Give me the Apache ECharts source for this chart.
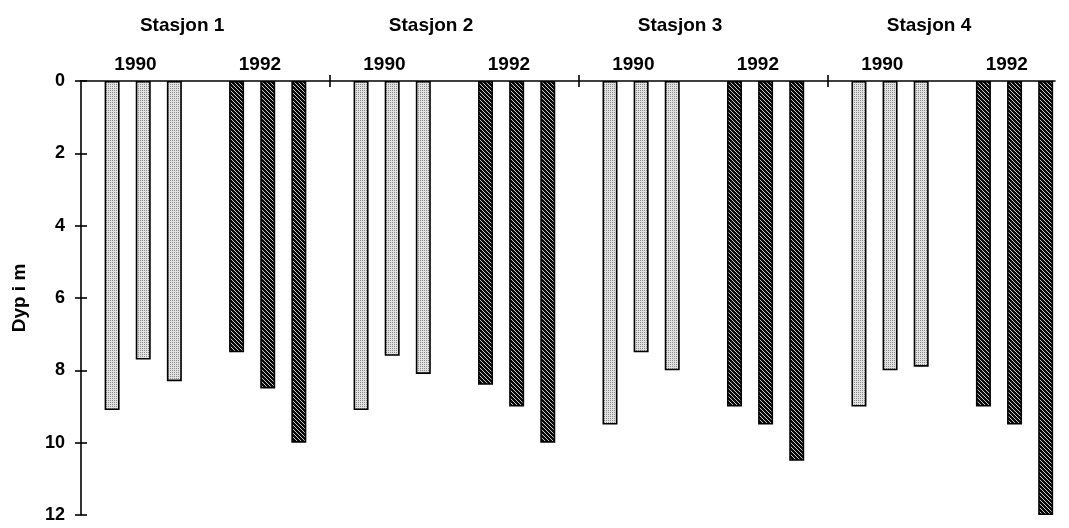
<!DOCTYPE html>
<html>
<head>
<meta charset="utf-8">
<script src="https://cdn.jsdelivr.net/npm/echarts@6/dist/echarts.min.js"></script>
<style>
html,body{margin:0;padding:0;background:#fff;}
#chart{width:1069px;height:528px;}
</style>
</head>
<body>
<div id="chart"></div>
<script>
// ---- data ----
var stations = ['Stasjon 1', 'Stasjon 2', 'Stasjon 3', 'Stasjon 4'];
var years = ['1990', '1992'];
var depth1990 = [[9.1, 7.7, 8.3], [9.1, 7.6, 8.1], [9.5, 7.5, 8.0], [9.0, 8.0, 7.9]];
var depth1992 = [[7.5, 8.5, 10.0], [8.4, 9.0, 10.0], [9.0, 9.5, 10.5], [9.0, 9.5, 12.0]];
var yTicks = [0, 2, 4, 6, 8, 10, 12];

// ---- layout helpers (slots along a value axis: 8 slots per station) ----
var SLOTS = 8;
function slotX(s, yearIdx, k) { return s * SLOTS + yearIdx * 4 + k + 1; }
function toSeriesData(arr, yearIdx) {
  var out = [];
  arr.forEach(function (vals, s) {
    vals.forEach(function (v, k) { out.push([slotX(s, yearIdx, k), v]); });
  });
  return out;
}
var boundaryTicks = stations.slice(1).map(function (_, i) { return (i + 1) * SLOTS; });
var yearLabelPos = [];
var stationLabelPos = [];
stations.forEach(function (_, s) {
  stationLabelPos.push(s * SLOTS + 3.25);
  years.forEach(function (_, y) { yearLabelPos.push(s * SLOTS + y * 4 + 1.75); });
});

// ---- fill patterns ----
function stipple() {
  var c = document.createElement('canvas'); c.width = 2; c.height = 2;
  var g = c.getContext('2d');
  g.fillStyle = '#e2e2e2'; g.fillRect(0, 0, 2, 2);
  g.fillStyle = '#8a8a8a'; g.fillRect(0, 0, 1, 1);
  return c;
}
function hatch() {
  var n = 4;
  var c = document.createElement('canvas'); c.width = n; c.height = n;
  var g = c.getContext('2d');
  g.fillStyle = '#0a0a0a'; g.fillRect(0, 0, n, n);
  g.strokeStyle = '#c8c8c8'; g.lineWidth = 1;
  [-n, 0, n].forEach(function (o) {
    g.beginPath(); g.moveTo(o, 0); g.lineTo(o + n, n); g.stroke();
  });
  return c;
}

var FONT = 'Liberation Sans';
var XMAX = 31.3;
var TICK = 6;
var tickStyle = { color: '#000', width: 1.6 };
var ghostLine = { show: true, lineStyle: { color: 'rgba(0,0,0,0)', width: 1 } };
var chart = echarts.init(document.getElementById('chart'), null, { renderer: 'canvas' });
chart.setOption({
  backgroundColor: '#fff',
  animation: false,
  grid: { left: 81, right: 14, top: 81, bottom: 13, containLabel: false },
  xAxis: [
    {
      type: 'value', position: 'top', min: 0, max: XMAX,
      axisLine: { show: true, lineStyle: { color: '#000', width: 1.6 } },
      axisTick: { show: true, customValues: boundaryTicks, inside: false, length: TICK, lineStyle: tickStyle },
      axisLabel: {
        show: true, customValues: yearLabelPos, margin: 7,
        color: '#000', fontFamily: FONT, fontWeight: 'bold', fontSize: 19,
        formatter: function (v) { var w = v - Math.floor(v / SLOTS) * SLOTS; return years[w < 4 ? 0 : 1]; }
      },
      splitLine: { show: false }
    },
    {
      // shifted down by one tick length so its outward ticks cross the main axis line
      type: 'value', position: 'top', offset: -TICK, min: 0, max: XMAX,
      axisLine: ghostLine,
      axisTick: { show: true, customValues: boundaryTicks, inside: false, length: TICK, lineStyle: tickStyle },
      axisLabel: {
        show: true, customValues: stationLabelPos, margin: 46 + TICK,
        color: '#000', fontFamily: FONT, fontWeight: 'bold', fontSize: 19,
        formatter: function (v) { return stations[Math.floor(v / SLOTS)]; }
      },
      splitLine: { show: false }
    }
  ],
  yAxis: [
    {
      type: 'value', inverse: true, min: 0, max: 12, interval: 2, position: 'left',
      name: 'Dyp i m', nameLocation: 'middle', nameGap: 52,
      nameTextStyle: { color: '#000', fontFamily: FONT, fontWeight: 'bold', fontSize: 19 },
      axisLine: { show: true, lineStyle: { color: '#000', width: 1.6 } },
      axisTick: { show: true, inside: false, length: TICK, customValues: yTicks, lineStyle: tickStyle },
      axisLabel: { show: true, margin: 16, color: '#000', fontFamily: FONT, fontWeight: 'bold', fontSize: 18,
        formatter: function (v) { return String(v); } },
      splitLine: { show: false }
    },
    {
      type: 'value', inverse: true, min: 0, max: 12, interval: 2, position: 'left', offset: -TICK,
      axisLine: ghostLine,
      axisTick: { show: true, inside: false, length: TICK, customValues: yTicks, lineStyle: tickStyle },
      axisLabel: { show: false },
      splitLine: { show: false }
    }
  ],
  series: [
    {
      name: years[0], type: 'bar', xAxisIndex: 0, yAxisIndex: 0,
      barWidth: 15, barGap: '-100%',
      itemStyle: { color: { image: stipple(), repeat: 'repeat' }, borderColor: '#000', borderWidth: 1.6 },
      data: toSeriesData(depth1990, 0)
    },
    {
      name: years[1], type: 'bar', xAxisIndex: 0, yAxisIndex: 0,
      barWidth: 15, barGap: '-100%',
      itemStyle: { color: { image: hatch(), repeat: 'repeat' }, borderColor: '#000', borderWidth: 1.6 },
      data: toSeriesData(depth1992, 1)
    },
    {
      // invisible companion so the secondary (tick-only) axes are not blank
      name: 'axes', type: 'scatter', xAxisIndex: 1, yAxisIndex: 1,
      symbolSize: 0, silent: true, itemStyle: { opacity: 0 },
      data: toSeriesData(depth1990, 0)
    }
  ]
});
</script>
</body>
</html>
